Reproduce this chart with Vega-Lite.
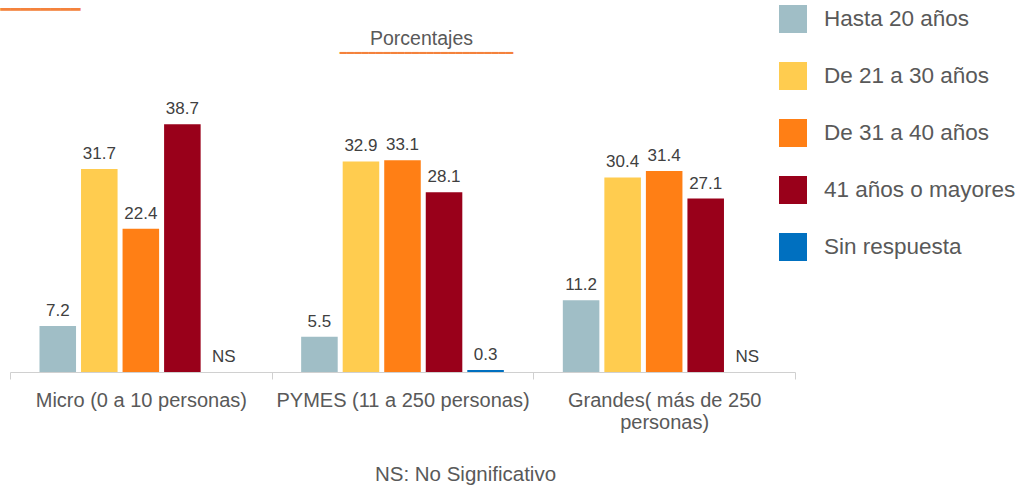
{
  "$schema": "https://vega.github.io/schema/vega-lite/v6.json",
  "width": 785,
  "height": 320,
  "autosize": "none",
  "padding": {"left": 10, "top": 52, "right": 227, "bottom": 116},
  "background": "white",
  "config": {"view": {"stroke": null}, "font": "Liberation Sans"},
  "data": {
    "values": [
      {"grupo": "Micro (0 a 10 personas)", "edad": "Hasta 20 años", "valor": 7.2, "etiqueta": "7.2"},
      {"grupo": "Micro (0 a 10 personas)", "edad": "De 21 a 30 años", "valor": 31.7, "etiqueta": "31.7"},
      {"grupo": "Micro (0 a 10 personas)", "edad": "De 31 a 40 años", "valor": 22.4, "etiqueta": "22.4"},
      {"grupo": "Micro (0 a 10 personas)", "edad": "41 años o mayores", "valor": 38.7, "etiqueta": "38.7"},
      {"grupo": "Micro (0 a 10 personas)", "edad": "Sin respuesta", "valor": 0, "etiqueta": "NS"},
      {"grupo": "PYMES (11 a 250 personas)", "edad": "Hasta 20 años", "valor": 5.5, "etiqueta": "5.5"},
      {"grupo": "PYMES (11 a 250 personas)", "edad": "De 21 a 30 años", "valor": 32.9, "etiqueta": "32.9"},
      {"grupo": "PYMES (11 a 250 personas)", "edad": "De 31 a 40 años", "valor": 33.1, "etiqueta": "33.1"},
      {"grupo": "PYMES (11 a 250 personas)", "edad": "41 años o mayores", "valor": 28.1, "etiqueta": "28.1"},
      {"grupo": "PYMES (11 a 250 personas)", "edad": "Sin respuesta", "valor": 0.3, "etiqueta": "0.3"},
      {"grupo": "Grandes( más de 250 personas)", "edad": "Hasta 20 años", "valor": 11.2, "etiqueta": "11.2"},
      {"grupo": "Grandes( más de 250 personas)", "edad": "De 21 a 30 años", "valor": 30.4, "etiqueta": "30.4"},
      {"grupo": "Grandes( más de 250 personas)", "edad": "De 31 a 40 años", "valor": 31.4, "etiqueta": "31.4"},
      {"grupo": "Grandes( más de 250 personas)", "edad": "41 años o mayores", "valor": 27.1, "etiqueta": "27.1"},
      {"grupo": "Grandes( más de 250 personas)", "edad": "Sin respuesta", "valor": 0, "etiqueta": "NS"}
    ]
  },
  "encoding": {
    "x": {
      "field": "grupo",
      "type": "nominal",
      "sort": null,
      "scale": {"paddingInner": 0, "paddingOuter": 0}
    },
    "xOffset": {
      "field": "edad",
      "type": "nominal",
      "sort": ["Hasta 20 años", "De 21 a 30 años", "De 31 a 40 años", "41 años o mayores", "Sin respuesta"],
      "scale": {"paddingInner": 0.12, "paddingOuter": 0.71}
    },
    "y": {
      "field": "valor",
      "type": "quantitative",
      "scale": {"domain": [0, 50], "nice": false}
    }
  },
  "resolve": {"axis": {"x": "independent", "y": "independent"}},
  "layer": [
    {
      "mark": {"type": "bar"},
      "encoding": {
        "x": {
          "field": "grupo",
          "type": "nominal",
          "sort": null,
          "axis": {
            "orient": "bottom",
            "title": "NS: No Significativo",
            "titleX": 455,
            "titleY": 102,
            "titleBaseline": "middle",
            "titleFontSize": 20.5,
            "titleFontWeight": "normal",
            "titleColor": "#595959",
            "titleFont": "Liberation Sans",
            "labelAngle": 0,
            "labelFontSize": 20,
            "labelColor": "#595959",
            "labelFont": "Liberation Sans",
            "labelPadding": 11,
            "labelLineHeight": 22,
            "labelLimit": 300,
            "labelExpr": "datum.value == 'Grandes( más de 250 personas)' ? ['Grandes( más de 250', 'personas)'] : datum.value",
            "tickBand": "extent",
            "tickSize": 7,
            "tickColor": "#D0D0D0",
            "domainColor": "#D0D0D0",
            "grid": false
          }
        },
        "y": {
          "field": "valor",
          "type": "quantitative",
          "axis": {
            "orient": "left",
            "title": "━━━━━━━━",
            "titleAngle": 0,
            "titleAlign": "left",
            "titleBaseline": "alphabetic",
            "titleX": -10,
            "titleY": -38,
            "titleFont": "DejaVu Sans Mono",
            "titleFontSize": 16.6,
            "titleFontWeight": "normal",
            "titleColor": "#F4823C",
            "labels": false,
            "ticks": false,
            "domain": false,
            "grid": false
          }
        },
        "color": {
          "field": "edad",
          "type": "nominal",
          "scale": {
            "domain": ["Hasta 20 años", "De 21 a 30 años", "De 31 a 40 años", "41 años o mayores", "Sin respuesta"],
            "range": ["#A0BEC6", "#FFCC4F", "#FF7F15", "#99001A", "#0070C0"]
          },
          "legend": {
            "title": null,
            "orient": "none",
            "legendX": 769,
            "legendY": -47,
            "symbolType": "square",
            "symbolSize": 784,
            "symbolStrokeWidth": 0,
            "rowPadding": 29,
            "labelFontSize": 22.5,
            "labelColor": "#595959",
            "labelFont": "Liberation Sans",
            "labelOffset": 17,
            "labelLimit": 300
          }
        }
      }
    },
    {
      "mark": {"type": "text", "baseline": "alphabetic", "dy": -10, "fontSize": 17, "color": "#404040", "font": "Liberation Sans"},
      "encoding": {
        "text": {"field": "etiqueta"},
        "x": {
          "field": "grupo",
          "type": "nominal",
          "sort": null,
          "axis": {
            "orient": "top",
            "title": "Porcentajes",
            "titleX": 411,
            "titleY": -14,
            "titleAlign": "center",
            "titleBaseline": "middle",
            "titleFontSize": 19.5,
            "titleFontWeight": "normal",
            "titleColor": "#595959",
            "titleFont": "Liberation Sans",
            "labels": false,
            "ticks": false,
            "domain": false,
            "grid": false
          }
        },
        "y": {
          "field": "valor",
          "type": "quantitative",
          "axis": {
            "orient": "right",
            "title": "━━━━━━━━━━━━━━━━━━━━━━━━",
            "titleAngle": 0,
            "titleAlign": "center",
            "titleBaseline": "alphabetic",
            "titleX": -369,
            "titleY": 4,
            "titleFont": "DejaVu Sans Mono",
            "titleFontSize": 12,
            "titleFontWeight": "normal",
            "titleColor": "#F4823C",
            "labels": false,
            "ticks": false,
            "domain": false,
            "grid": false
          }
        }
      }
    }
  ]
}
